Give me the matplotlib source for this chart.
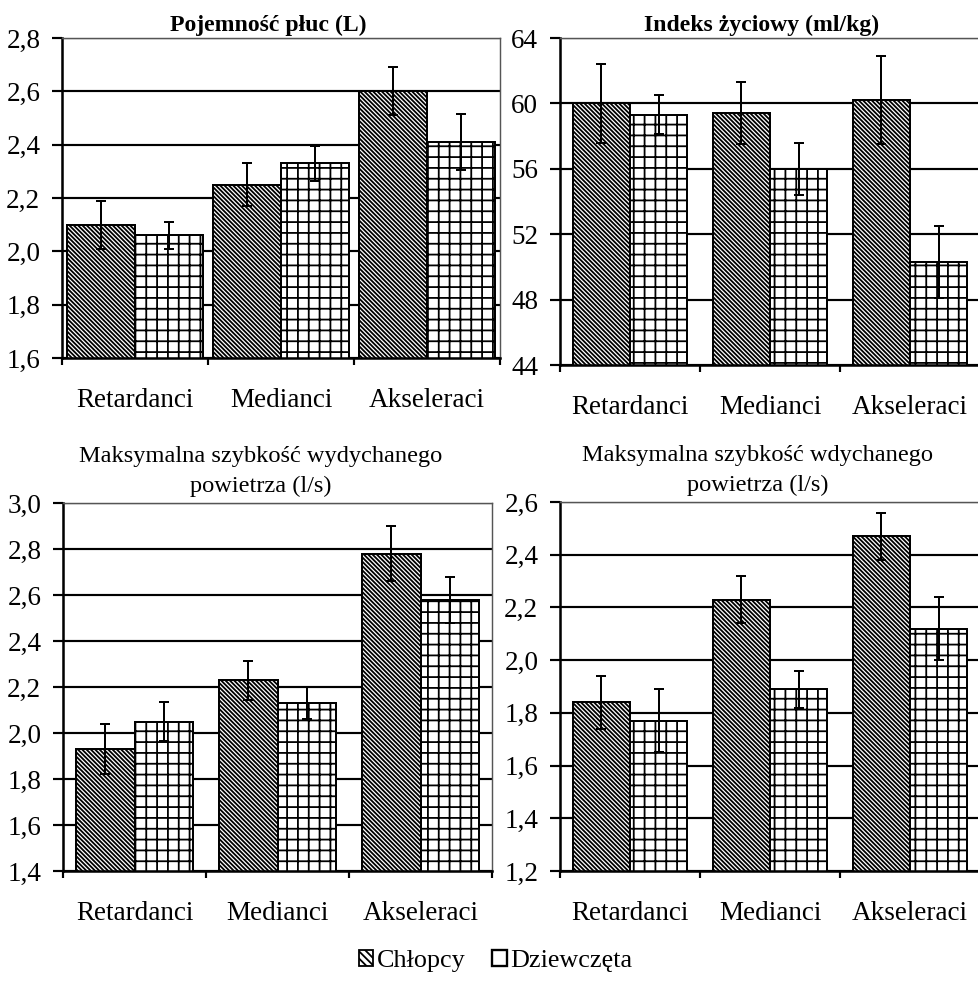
import numpy as np
import matplotlib
matplotlib.use("Agg")
import matplotlib.pyplot as plt
from matplotlib.patches import Patch

plt.rcParams['font.family'] = ['Liberation Serif', 'DejaVu Serif']
plt.rcParams['hatch.linewidth'] = 1.0

DPI = 130

categories = ['Retardanci', 'Medianci', 'Akseleraci']
series_names = ['Chłopcy', 'Dziewczęta']

# Pojemność płuc (L)
lung_boys = [2.10, 2.25, 2.60]
lung_boys_err = [0.09, 0.08, 0.09]
lung_girls = [2.06, 2.33, 2.41]
lung_girls_err = [0.05, 0.065, 0.105]
lung_ticks = [1.6, 1.8, 2.0, 2.2, 2.4, 2.6, 2.8]
lung_labels = ['1,6', '1,8', '2,0', '2,2', '2,4', '2,6', '2,8']

# Indeks życiowy (ml/kg)
vital_boys = [60.0, 59.4, 60.2]
vital_boys_err = [2.4, 1.9, 2.7]
vital_girls = [59.3, 56.0, 50.3]
vital_girls_err = [1.2, 1.6, 2.2]
vital_ticks = [44, 48, 52, 56, 60, 64]
vital_labels = ['44', '48', '52', '56', '60', '64']

# Maksymalna szybkość wydychanego powietrza (l/s)
pef_out_boys = [1.93, 2.23, 2.78]
pef_out_boys_err = [0.11, 0.085, 0.12]
pef_out_girls = [2.05, 2.13, 2.58]
pef_out_girls_err = [0.085, 0.07, 0.10]
pef_out_ticks = [1.4, 1.6, 1.8, 2.0, 2.2, 2.4, 2.6, 2.8, 3.0]
pef_out_labels = ['1,4', '1,6', '1,8', '2,0', '2,2', '2,4', '2,6', '2,8', '3,0']

# Maksymalna szybkość wdychanego powietrza (l/s)
pef_in_boys = [1.84, 2.23, 2.47]
pef_in_boys_err = [0.10, 0.09, 0.09]
pef_in_girls = [1.77, 1.89, 2.12]
pef_in_girls_err = [0.12, 0.07, 0.12]
pef_in_ticks = [1.2, 1.4, 1.6, 1.8, 2.0, 2.2, 2.4, 2.6]
pef_in_labels = ['1,2', '1,4', '1,6', '1,8', '2,0', '2,2', '2,4', '2,6']

BOY_HATCH = '\\' * 10
GIRL_HATCH = '++'
TICK_FS = 15


def draw_panel(ax, boys, boys_err, girls, girls_err, ticks, labels, title,
               width, title_weight, title_fs, title_pad, title_x):
    x = np.arange(len(categories))
    ax.set_axisbelow(True)
    ax.bar(x - width / 2, boys, width, color='white',
           edgecolor='black', linewidth=1.1, hatch=BOY_HATCH, zorder=2)
    ax.bar(x + width / 2, girls, width, color='white',
           edgecolor='black', linewidth=1.1, hatch=GIRL_HATCH, zorder=2)
    ax.errorbar(x - width / 2, boys, yerr=boys_err, fmt='none', ecolor='black',
                elinewidth=1.1, capsize=2.8, capthick=1.1, zorder=3)
    ax.errorbar(x + width / 2, girls, yerr=girls_err, fmt='none', ecolor='black',
                elinewidth=1.1, capsize=2.8, capthick=1.1, zorder=3)
    ax.set_ylim(ticks[0], ticks[-1])
    ax.set_xlim(-0.5, len(categories) - 0.5)
    ax.set_yticks(ticks)
    ax.set_yticklabels(labels, fontsize=TICK_FS)
    ax.yaxis.grid(True, color='black', linewidth=1.2)
    ax.set_xticks(np.arange(len(categories) + 1) - 0.5)
    ax.set_xticklabels([])
    ax.set_xticks(x, minor=True)
    ax.set_xticklabels(categories, minor=True, fontsize=TICK_FS)
    ax.tick_params(axis='x', which='minor', length=0, pad=16.5)
    ax.tick_params(axis='x', which='major', length=4, width=1.2, direction='out')
    ax.tick_params(axis='y', length=5.5, width=1.2, direction='out', pad=6.5)
    for side in ['left', 'bottom']:
        ax.spines[side].set_linewidth(1.4)
    for side in ['top', 'right']:
        ax.spines[side].set_linewidth(0.8)
        ax.spines[side].set_color('#555555')
    ax.set_title(title, fontsize=title_fs, fontweight=title_weight,
                 pad=title_pad, linespacing=1.55, x=title_x)


W, H = 978, 981
fig = plt.figure(figsize=(W / DPI, H / DPI), dpi=DPI)
fig.patch.set_facecolor('white')

ax_tl = fig.add_axes([62 / W, 1 - 358 / H, 438 / W, 320 / H])
ax_tr = fig.add_axes([560 / W, 1 - 365 / H, 420 / W, 327 / H])
ax_bl = fig.add_axes([63 / W, 1 - 871 / H, 429 / W, 368 / H])
ax_br = fig.add_axes([560 / W, 1 - 871 / H, 420 / W, 369 / H])

draw_panel(ax_tl, lung_boys, lung_boys_err, lung_girls, lung_girls_err,
           lung_ticks, lung_labels, 'Pojemność płuc (L)', 0.465, 'bold', 13.2, 4, 0.47)
draw_panel(ax_tr, vital_boys, vital_boys_err, vital_girls, vital_girls_err,
           vital_ticks, vital_labels, 'Indeks życiowy (ml/kg)', 0.41, 'bold', 13.2, 4, 0.479)
draw_panel(ax_bl, pef_out_boys, pef_out_boys_err, pef_out_girls, pef_out_girls_err,
           pef_out_ticks, pef_out_labels,
           'Maksymalna szybkość wydychanego\npowietrza (l/s)', 0.41, 'normal', 13.5, 6, 0.46)
draw_panel(ax_br, pef_in_boys, pef_in_boys_err, pef_in_girls, pef_in_girls_err,
           pef_in_ticks, pef_in_labels,
           'Maksymalna szybkość wdychanego\npowietrza (l/s)', 0.41, 'normal', 13.5, 6, 0.471)

handles = [Patch(facecolor='white', edgecolor='black', hatch='\\' * 6, linewidth=1.0),
           Patch(facecolor='white', edgecolor='black', linewidth=1.3)]
fig.legend(handles, series_names, loc='center', bbox_to_anchor=(0.507, 1 - 961 / H),
           ncol=2, frameon=False, fontsize=14.5, handlelength=0.55, handleheight=0.55,
           handletextpad=0.15, columnspacing=1.0)

fig.savefig('out.png', dpi=DPI, facecolor='white')
